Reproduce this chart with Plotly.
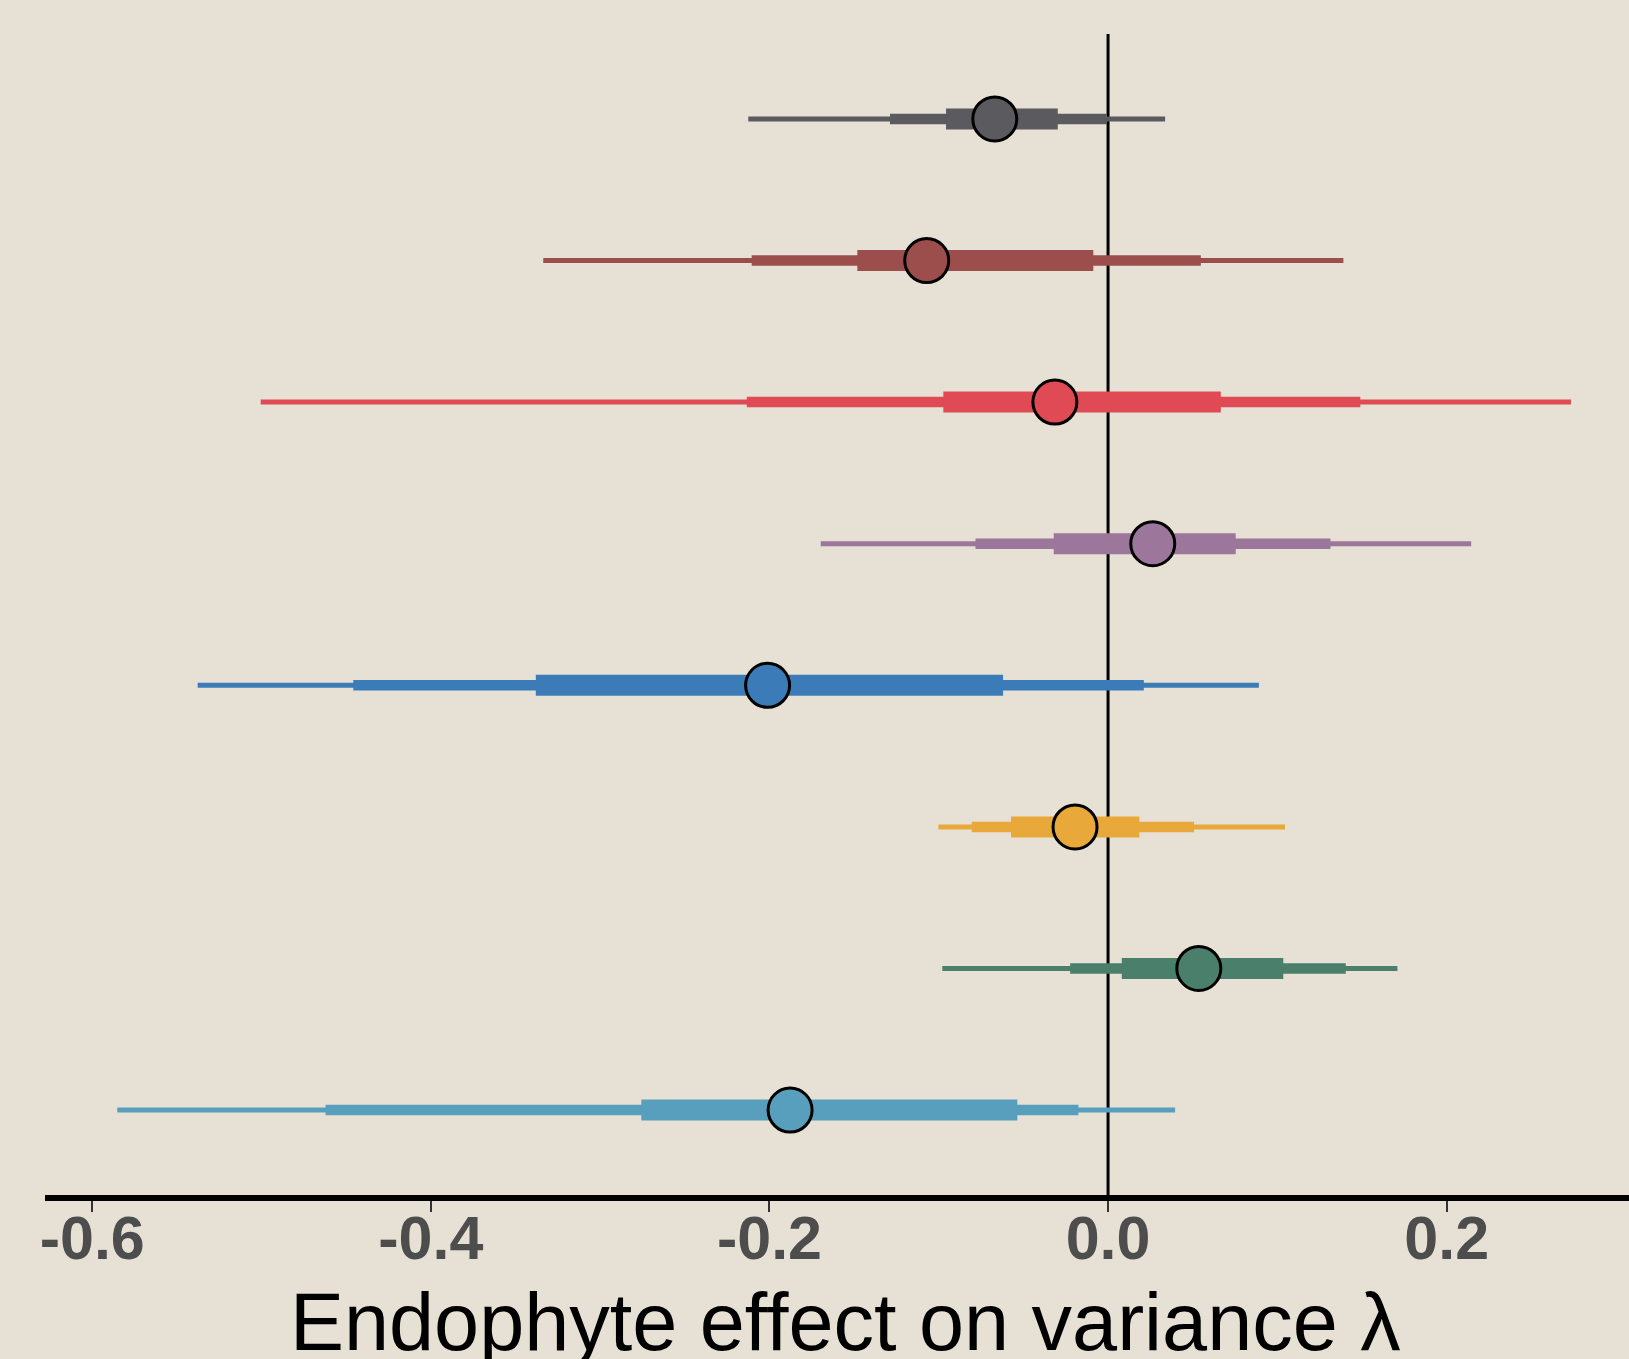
import plotly.graph_objects as go

# Row order: top to bottom
groups = ["G1", "G2", "G3", "G4", "G5", "G6", "G7", "G8"]
colors = ["#5b5a5f", "#9b4e4b", "#e04a55", "#9d769c", "#3b7bb7", "#e9a83a", "#4a7f6b", "#579fbd"]

point = [-0.0669, -0.1071, -0.0314, 0.0264, -0.2011, -0.0195, 0.0536, -0.1878]
# outer interval (thin)
lo95 = [-0.2125, -0.3336, -0.5005, -0.1697, -0.5377, -0.1002, -0.0979, -0.5852]
hi95 = [0.0337, 0.1390, 0.2734, 0.2145, 0.0891, 0.1045, 0.1709, 0.0396]
# middle interval (medium)
lo80 = [-0.1288, -0.2105, -0.2134, -0.0783, -0.4458, -0.0805, -0.0224, -0.4622]
hi80 = [-0.0008, 0.0548, 0.1490, 0.1314, 0.0211, 0.0508, 0.1404, -0.0175]
# inner interval (thick)
lo50 = [-0.0957, -0.1481, -0.0973, -0.0321, -0.3380, -0.0573, 0.0081, -0.2757]
hi50 = [-0.0297, -0.0087, 0.0666, 0.0754, -0.0620, 0.0185, 0.1035, -0.0536]

xticks = [-0.6, -0.4, -0.2, 0.0, 0.2]
xticklabels = ["-0.6", "-0.4", "-0.2", "0.0", "0.2"]
xtitle = "Endophyte effect on variance λ"

n = len(groups)
ypos = [n - i for i in range(n)]

fig = go.Figure()
for i in range(n):
    for lo, hi, w in ((lo95, hi95, 5), (lo80, hi80, 10.5), (lo50, hi50, 21)):
        fig.add_trace(go.Scatter(
            x=[lo[i], hi[i]], y=[ypos[i], ypos[i]], mode="lines",
            line=dict(color=colors[i], width=w), showlegend=False, hoverinfo="skip"))
    fig.add_trace(go.Scatter(
        x=[point[i]], y=[ypos[i]], mode="markers",
        marker=dict(size=44, color=colors[i], line=dict(color="black", width=3)),
        showlegend=False, name=groups[i]))

bg = "#e6e1d4"
fig.update_layout(
    width=1629, height=1359,
    paper_bgcolor=bg, plot_bgcolor=bg,
    margin=dict(l=45, r=0, t=34, b=164),
    font=dict(family="Liberation Sans, Arial, sans-serif"),
    showlegend=False,
)
fig.update_xaxes(
    range=[-0.6279, 0.3077],
    automargin=False,
    tickvals=xticks, ticktext=xticklabels,
    ticks="outside", ticklen=11, tickwidth=2, tickcolor="#333333",
    ticklabelstandoff=-26,
    tickfont=dict(size=61, color="#4d4d4d", family="Liberation Sans, Arial, sans-serif", weight="bold"),
    showgrid=False, zeroline=False,
    showline=True, linecolor="black", linewidth=6,
)
fig.update_yaxes(range=[0.4, 8.6], showticklabels=False, showgrid=False, zeroline=False, ticks="",
                 automargin=False)
fig.add_shape(type="line", x0=0, x1=0, xref="x", yref="paper", y0=0, y1=1,
              line=dict(color="black", width=3), layer="below")
fig.add_annotation(text=xtitle, xref="paper", yref="paper", x=0.5055, y=0,
                   xanchor="center", yanchor="top", yshift=-80, showarrow=False,
                   font=dict(size=81, color="black", family="Liberation Sans, Arial, sans-serif"))

fig.write_html("out.html", config={"displayModeBar": False},
               post_script="document.body.style.margin='0';document.body.style.overflow='hidden';")
